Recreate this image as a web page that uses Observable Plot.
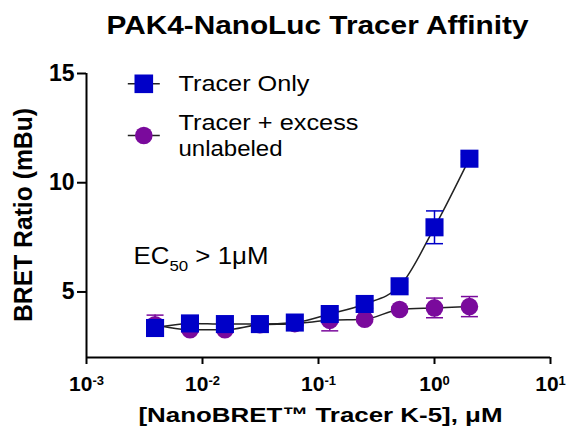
<!DOCTYPE html>
<html><head><meta charset="utf-8">
<script src="https://cdn.jsdelivr.net/npm/d3@7"></script>
<script src="https://cdn.jsdelivr.net/npm/@observablehq/plot@0.6"></script>
<style>body{margin:0;background:#fff}</style>
</head><body><div id="chart"></div>
<script>
// ---- data ----
const concentrations = [0.0039, 0.0078, 0.0156, 0.03125, 0.0625, 0.125, 0.25, 0.5, 1, 2];
const tracerOnly = [3.35, 3.56, 3.53, 3.53, 3.6, 3.99, 4.45, 5.26, 7.96, 11.1];
const tracerOnlyErr = [0.15, 0.1, 0.1, 0.1, 0.1, 0.15, 0.2, 0.2, 0.75, 0.2];
const tracerUnlabeled = [3.5, 3.27, 3.27, 3.5, 3.55, 3.7, 3.75, 4.2, 4.27, 4.33];
const tracerUnlabeledErr = [0.44, 0.1, 0.1, 0.1, 0.1, 0.48, 0.1, 0.1, 0.45, 0.46];
const seriesNames = ["Tracer Only", "Tracer + excess unlabeled"];
const legendLines = ["Tracer + excess", "unlabeled"];
const xTicks = [1e-3, 1e-2, 1e-1, 1e0, 1e1];
const yTicks = [5, 10, 15];
const xDomain = [1e-3, 10];
const yDomain = [2, 15];
const titleText = "PAK4-NanoLuc Tracer Affinity";
const xLabel = "[NanoBRET™ Tracer K-5], μM";
const yLabel = "BRET Ratio (mBu)";
const annotation = "EC50 > 1μM";

// ---- styling ----
const BLUE = "#0000c8", PURPLE = "#7a0a9c", LINE = "#222";
const textWidths = {
  [titleText]: 422, [xLabel]: 364, [yLabel]: 214,
  [seriesNames[0]]: 131, [legendLines[0]]: 180, [legendLines[1]]: 104, [annotation]: 135
};

const blueRows = concentrations.map((c, i) => ({x: c, y: tracerOnly[i], err: tracerOnlyErr[i]}));
const purpleRows = concentrations.map((c, i) => ({x: c, y: tracerUnlabeled[i], err: tracerUnlabeledErr[i]}));

const hline = {draw(ctx, size) { const l = Math.sqrt(size / Math.PI); ctx.moveTo(-l, 0); ctx.lineTo(l, 0); }};

function errorMarks(rows, color) {
  return [
    Plot.ruleX(rows, {x: "x", y1: d => d.y - d.err, y2: d => d.y + d.err, stroke: color, strokeWidth: 1.5}),
    Plot.dot(rows, {x: "x", y: d => d.y + d.err, symbol: hline, r: 8.5, stroke: color, strokeWidth: 1.5, fill: "none"}),
    Plot.dot(rows, {x: "x", y: d => d.y - d.err, symbol: hline, r: 8.5, stroke: color, strokeWidth: 1.5, fill: "none"})
  ];
}

const svg = Plot.plot({
  width: 569, height: 431,
  marginLeft: 86, marginRight: 19, marginTop: 73, marginBottom: 74,
  style: {background: "white", fontFamily: "'Liberation Sans', Arial, sans-serif", fontSize: "22px", fontWeight: "bold", color: "black"},
  x: {type: "log", domain: xDomain, label: null},
  y: {domain: yDomain, label: null},
  marks: [
    Plot.line(purpleRows, {x: "x", y: "y", curve: "monotone-x", stroke: LINE, strokeWidth: 1.5}),
    Plot.line(blueRows, {x: "x", y: "y", curve: "monotone-x", stroke: LINE, strokeWidth: 1.5}),
    ...errorMarks(purpleRows, PURPLE),
    Plot.dot(purpleRows, {x: "x", y: "y", r: 8.8, fill: PURPLE}),
    ...errorMarks(blueRows, BLUE),
    Plot.dot(blueRows, {x: "x", y: "y", symbol: "square", r: 10.2, fill: BLUE}),
    Plot.ruleY([yDomain[0]], {x1: xDomain[0], x2: xDomain[1], strokeWidth: 2}),
    Plot.ruleX([xDomain[0]], {y1: yDomain[0], y2: yDomain[1], strokeWidth: 2}),
    Plot.axisY({ticks: yTicks, tickSize: 9, tickPadding: 3, strokeWidth: 2, fontSize: 23, fontWeight: "bold", label: null}),
    Plot.axisX({ticks: xTicks, tickSize: 7, tickPadding: 12, strokeWidth: 2, fontSize: 21, fontWeight: "bold", label: null,
      tickFormat: d => "10^" + Math.round(Math.log10(d))}),
    // legend
    Plot.dot([seriesNames[0]], {frameAnchor: "top-left", dx: 57.3, dy: 10.3, symbol: hline, r: 16, stroke: LINE, strokeWidth: 1.5, fill: "none"}),
    Plot.dot([seriesNames[0]], {frameAnchor: "top-left", dx: 57.3, dy: 10.3, symbol: "square", r: 10.5, fill: BLUE}),
    Plot.dot([seriesNames[1]], {frameAnchor: "top-left", dx: 57.3, dy: 62, symbol: hline, r: 16, stroke: LINE, strokeWidth: 1.5, fill: "none"}),
    Plot.dot([seriesNames[1]], {frameAnchor: "top-left", dx: 57.3, dy: 62, r: 8.8, fill: PURPLE}),
    Plot.text([seriesNames[0]], {text: d => d, frameAnchor: "top-left", dx: 92, dy: 17.7, textAnchor: "start", lineAnchor: "bottom", fontSize: 22, fontWeight: "normal"}),
    Plot.text([legendLines[0]], {text: d => d, frameAnchor: "top-left", dx: 92, dy: 56, textAnchor: "start", lineAnchor: "bottom", fontSize: 22, fontWeight: "normal"}),
    Plot.text([legendLines[1]], {text: d => d, frameAnchor: "top-left", dx: 92, dy: 82, textAnchor: "start", lineAnchor: "bottom", fontSize: 22, fontWeight: "normal"}),
    // annotation
    Plot.text([annotation], {text: d => d, frameAnchor: "top-left", dx: 47, dy: 190, textAnchor: "start", lineAnchor: "bottom", fontSize: 23, fontWeight: "normal"}),
    // titles
    Plot.text([titleText], {text: d => d, frameAnchor: "top", dx: -1, dy: -39.7, textAnchor: "middle", lineAnchor: "bottom", fontSize: 25, fontWeight: "bold"}),
    Plot.text([xLabel], {text: d => d, frameAnchor: "bottom", dx: 2, dy: 64.7, textAnchor: "middle", lineAnchor: "bottom", fontSize: 21, fontWeight: "bold"}),
    Plot.text([yLabel], {text: d => d, frameAnchor: "left", dx: -55, dy: -0.5, rotate: -90, textAnchor: "middle", lineAnchor: "bottom", fontSize: 25, fontWeight: "bold"})
  ]
});

document.getElementById("chart").appendChild(svg);

// superscripts / subscripts and widths
d3.select(svg).selectAll("text").each(function() {
  const t = this.textContent;
  const m = /^10\^(-?\d+)$/.exec(t);
  const sel = d3.select(this);
  if (m) {
    this.textContent = "";
    sel.append("tspan").text("10");
    sel.append("tspan").attr("dy", -6).attr("font-size", 13).text(m[1]);
  } else if (t === annotation) {
    this.textContent = "";
    sel.append("tspan").text("EC");
    sel.append("tspan").attr("dy", 7).attr("font-size", 15).text("50");
    sel.append("tspan").attr("dy", -7).text(" > 1μM");
  }
  if (textWidths[t]) {
    this.setAttribute("textLength", textWidths[t]);
    this.setAttribute("lengthAdjust", "spacingAndGlyphs");
  }
});
</script>
</body></html>
